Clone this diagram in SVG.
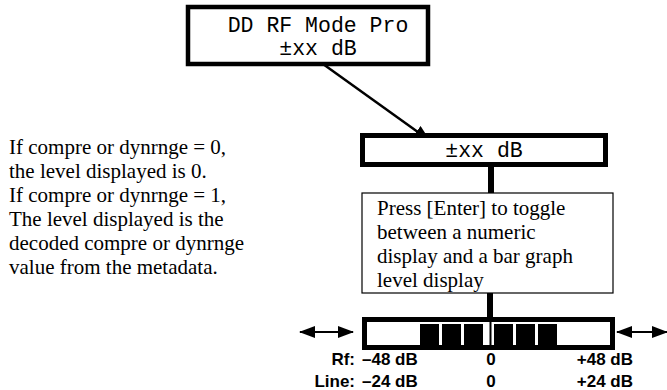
<svg xmlns="http://www.w3.org/2000/svg" width="667" height="390" viewBox="0 0 667 390">
<style>
.mono{font-family:"Liberation Mono","Courier New",monospace;font-size:21.5px;fill:#000;text-anchor:middle}
.serif{font-family:"Liberation Serif","Times New Roman",serif;font-size:21px;fill:#000}
.lbl{font-family:"Liberation Sans",Arial,sans-serif;font-size:17px;font-weight:bold;fill:#000}
.thick{fill:#fff;stroke:#000;stroke-width:4.5}
.thick5{fill:#fff;stroke:#000;stroke-width:5}
.thin{fill:#fff;stroke:#000;stroke-width:1.2}
.bar{fill:#000}
</style>
<defs>
<marker id="ah" viewBox="0 0 16 12" refX="15" refY="6" markerWidth="16" markerHeight="12" markerUnits="userSpaceOnUse" orient="auto-start-reverse">
<path d="M0,0 L16,6 L0,12 z" fill="#000"/>
</marker>
<marker id="ah2" viewBox="0 0 16 13" refX="15" refY="6.5" markerWidth="16" markerHeight="13" markerUnits="userSpaceOnUse" orient="auto">
<path d="M0,0 L16,6.5 L0,13 z" fill="#000"/>
</marker>
</defs>
<g id="note">
<text class="serif" x="9" y="154">If compre or dynrnge = 0,</text>
<text class="serif" x="9" y="178">the level displayed is 0.</text>
<text class="serif" x="9" y="202">If compre or dynrnge = 1,</text>
<text class="serif" x="9" y="226">The level displayed is the</text>
<text class="serif" x="9" y="250">decoded compre or dynrnge</text>
<text class="serif" x="9" y="274">value from the metadata.</text>
</g>
<g id="connectors">
<line x1="323" y1="64" x2="429" y2="140" stroke="#000" stroke-width="2.5" marker-end="url(#ah2)"/>
<rect x="488" y="165" width="6" height="28" fill="#000"/>
<rect x="487" y="293" width="6" height="25" fill="#000"/>
<line x1="300" y1="332" x2="353" y2="332" stroke="#000" stroke-width="2" marker-start="url(#ah)" marker-end="url(#ah)"/>
<line x1="617" y1="332" x2="667" y2="332" stroke="#000" stroke-width="2" marker-start="url(#ah)" marker-end="url(#ah)"/>
</g>
<g id="top">
<rect class="thick" x="188" y="7" width="240" height="57"/>
<text class="mono" x="318" y="32">DD RF Mode Pro</text>
<text class="mono" x="318" y="55">±xx dB</text>
</g>
<g id="value">
<rect class="thick5" x="362.5" y="135.5" width="243" height="29"/>
<text class="mono" x="484" y="157">±xx dB</text>
</g>
<g id="press">
<rect class="thin" x="362" y="193" width="251" height="100"/>
<text class="serif" x="377" y="215">Press [Enter] to toggle</text>
<text class="serif" x="377" y="239">between a numeric</text>
<text class="serif" x="377" y="263">display and a bar graph</text>
<text class="serif" x="377" y="287">level display</text>
</g>
<g id="bargraph">
<rect class="thick5" x="364.5" y="319.5" width="248" height="28"/>
<rect class="bar" x="420" y="324" width="19" height="21"/>
<rect class="bar" x="442" y="324" width="19" height="21"/>
<rect class="bar" x="464" y="324" width="19" height="21"/>
<rect class="bar" x="489.5" y="320" width="2" height="27"/>
<rect class="bar" x="494" y="324" width="19" height="21"/>
<rect class="bar" x="516" y="324" width="19" height="21"/>
<rect class="bar" x="538" y="324" width="19" height="21"/>
</g>
<g id="scale">
<text class="lbl" x="355" y="365" text-anchor="end">Rf:</text>
<text class="lbl" x="362" y="365">–48 dB</text>
<text class="lbl" x="491" y="365" text-anchor="middle">0</text>
<text class="lbl" x="633" y="365" text-anchor="end">+48 dB</text>
<text class="lbl" x="355" y="387" text-anchor="end">Line:</text>
<text class="lbl" x="362" y="387">–24 dB</text>
<text class="lbl" x="491" y="387" text-anchor="middle">0</text>
<text class="lbl" x="633" y="387" text-anchor="end">+24 dB</text>
</g>
</svg>
